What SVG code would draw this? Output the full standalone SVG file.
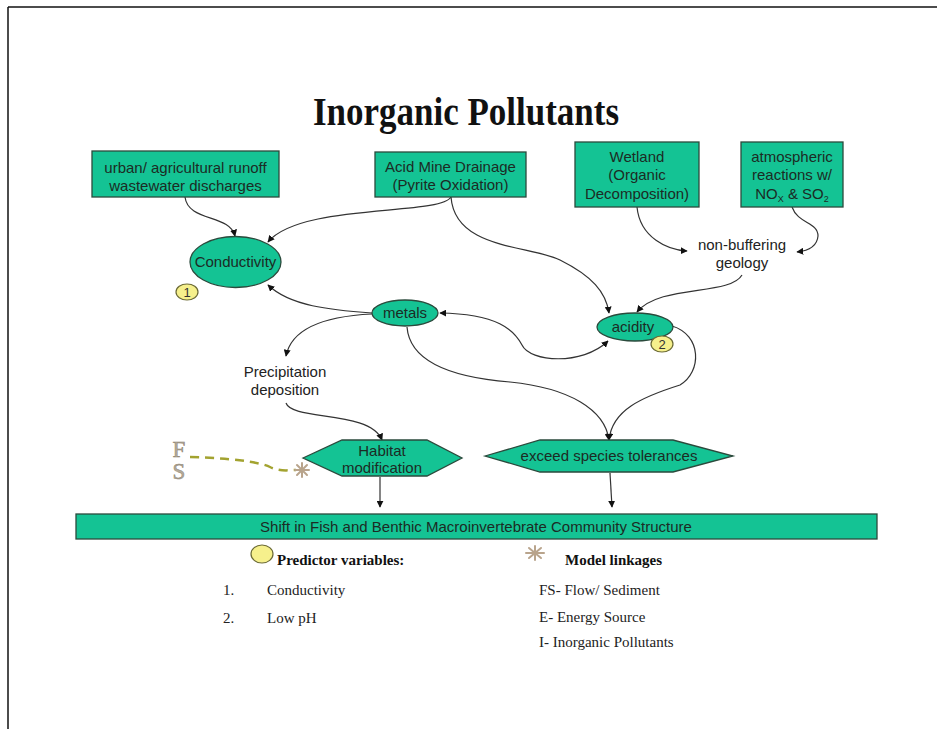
<svg xmlns="http://www.w3.org/2000/svg" width="937" height="729" viewBox="0 0 937 729">
<style>
.box{fill:#14c394;stroke:#2b4a3c;stroke-width:1.3}
.nt{font-family:"Liberation Sans",Arial,sans-serif;font-size:15px;fill:#1c2b24;text-anchor:middle}
.pt{font-family:"Liberation Sans",Arial,sans-serif;font-size:15px;fill:#222;text-anchor:middle}
.badge{fill:#f6f08c;stroke:#6b6a34;stroke-width:1.2}
.bt{font-family:"Liberation Sans",Arial,sans-serif;font-size:13px;fill:#333;text-anchor:middle}
.conn path{fill:none;stroke:#333;stroke-width:1.2}
.conn path.dash{stroke:#a3a330;stroke-width:2.5;stroke-dasharray:9,6}
.leg{font-family:"Liberation Serif","Times New Roman",serif;font-size:15px;fill:#222}
.legb{font-family:"Liberation Serif","Times New Roman",serif;font-size:15px;font-weight:bold;fill:#111}
.ast{stroke:#b9a48c;stroke-width:2;stroke-linecap:round}
</style>
<defs>
<marker id="ah" viewBox="0 0 10 10" refX="9" refY="5" markerWidth="7" markerHeight="7" orient="auto-start-reverse" markerUnits="userSpaceOnUse">
<path d="M0,0 L10,5 L0,10 z" fill="#111"/>
</marker>
</defs>
<rect x="0" y="0" width="937" height="729" fill="#fff"/>
<g id="frame" stroke="#111" stroke-width="1.5">
<line x1="8" y1="7" x2="937" y2="7"/>
<line x1="8" y1="7" x2="8" y2="729"/>
</g>
<text id="title" x="466" y="125" text-anchor="middle" font-family="'Liberation Serif','Times New Roman',serif" font-weight="bold" font-size="40" textLength="306" lengthAdjust="spacingAndGlyphs" fill="#111">Inorganic Pollutants</text>

<g class="conn">
<path d="M185,197 C188,222 230,214 235,236" marker-end="url(#ah)"/>
<path d="M451,197 C440,216 300,203 268,242" marker-end="url(#ah)"/>
<path d="M451,197 C455,250 530,245 560,260 C592,276 606,292 609,313" marker-end="url(#ah)"/>
<path d="M637,207 C640,238 668,250 687,251" marker-end="url(#ah)"/>
<path d="M792,207 C798,224 818,222 818,236 C817,248 806,251 797,252" marker-end="url(#ah)"/>
<path d="M742,275 C730,296 660,284 637,312" marker-end="url(#ah)"/>
<path d="M372,313 C330,310 290,306 268,285" marker-end="url(#ah)"/>
<path d="M372,314 C330,316 292,326 286,356" marker-end="url(#ah)"/>
<path d="M286,403 C292,421 370,410 382,440" marker-end="url(#ah)"/>
<path d="M440,313 C498,314 514,330 522,345 C530,362 582,366 608,341" marker-start="url(#ah)" marker-end="url(#ah)"/>
<path d="M407,327 C410,365 460,378 510,382 C570,388 605,410 609,440" marker-end="url(#ah)"/>
<path d="M672,326 C702,335 702,372 680,385 C642,397 612,410 609,440" marker-end="url(#ah)"/>
<path d="M380,477 L380,507" marker-end="url(#ah)"/>
<path d="M610,473 L612,507" marker-end="url(#ah)"/>
<path class="dash" d="M190,457 C230,458 260,462 270,467 C280,472 290,470 296,470"/>
</g>

<g id="n-urban">
<rect class="box" x="92" y="151" width="187" height="46"/>
<text class="nt" x="185.5" y="173">urban/ agricultural runoff</text>
<text class="nt" x="185.5" y="191">wastewater discharges</text>
</g>
<g id="n-amd">
<rect class="box" x="375" y="152" width="151" height="45"/>
<text class="nt" x="450.5" y="172">Acid Mine Drainage</text>
<text class="nt" x="450.5" y="190">(Pyrite Oxidation)</text>
</g>
<g id="n-wetland">
<rect class="box" x="575" y="142" width="124" height="65"/>
<text class="nt" x="637" y="162">Wetland</text>
<text class="nt" x="637" y="180">(Organic</text>
<text class="nt" x="637" y="199">Decomposition)</text>
</g>
<g id="n-atmo">
<rect class="box" x="741" y="142" width="102" height="65"/>
<text class="nt" x="792" y="162">atmospheric</text>
<text class="nt" x="792" y="180">reactions w/</text>
<text class="nt" x="792" y="199">NO<tspan font-size="9" dy="3">X</tspan><tspan dy="-3"> &amp; SO</tspan><tspan font-size="9" dy="3">2</tspan></text>
</g>
<g id="n-geology">
<text class="pt" x="742" y="250">non-buffering</text>
<text class="pt" x="742" y="268">geology</text>
</g>
<g id="n-conductivity">
<ellipse class="box" cx="235.5" cy="262" rx="45.5" ry="25.5"/>
<text class="nt" x="235.5" y="267">Conductivity</text>
<ellipse class="badge" cx="187" cy="292" rx="11" ry="8"/>
<text class="bt" x="187" y="297">1</text>
</g>
<g id="n-metals">
<ellipse class="box" cx="405" cy="313" rx="33" ry="13"/>
<text class="nt" x="405" y="318">metals</text>
</g>
<g id="n-acidity">
<ellipse class="box" cx="635" cy="327" rx="38" ry="14"/>
<text class="nt" x="633" y="332">acidity</text>
<ellipse class="badge" cx="662" cy="344" rx="11" ry="8"/>
<text class="bt" x="662" y="349">2</text>
</g>
<g id="n-precip">
<text class="pt" x="285" y="377">Precipitation</text>
<text class="pt" x="285" y="395">deposition</text>
</g>
<g id="n-habitat">
<polygon class="box" points="303,458 342,440 427,440 462,458 427,476 342,476"/>
<text class="nt" x="382" y="456">Habitat</text>
<text class="nt" x="382" y="473">modification</text>
</g>
<g id="n-exceed">
<polygon class="box" points="485,456 540,440 673,440 733,456 673,472 540,472"/>
<text class="nt" x="609" y="461">exceed species tolerances</text>
</g>
<g id="n-shift">
<rect class="box" x="76" y="514" width="801" height="25"/>
<text class="nt" x="476" y="532">Shift in Fish and Benthic Macroinvertebrate Community Structure</text>
</g>
<g id="n-fs">
<text x="179" y="437" style="writing-mode:vertical-rl;text-orientation:upright" font-family="'Liberation Serif',serif" font-size="23" fill="#b4aa9a" stroke="#8c8270" stroke-width="0.5" letter-spacing="-3">FS</text>
<g class="ast" transform="translate(302,470)">
<line x1="-7" y1="0" x2="7" y2="0"/><line x1="0" y1="-7" x2="0" y2="7"/>
<line x1="-5" y1="-5" x2="5" y2="5"/><line x1="-5" y1="5" x2="5" y2="-5"/>
</g>
</g>
<g id="legend-predictor">
<ellipse class="badge" cx="262" cy="554" rx="11" ry="9"/>
<text class="legb" x="277" y="565">Predictor variables:</text>
<text class="leg" x="223" y="595">1.</text>
<text class="leg" x="267" y="595">Conductivity</text>
<text class="leg" x="223" y="623">2.</text>
<text class="leg" x="267" y="623">Low pH</text>
</g>
<g id="legend-model">
<g class="ast" transform="translate(535,553)">
<line x1="-9" y1="0" x2="9" y2="0"/><line x1="0" y1="-7" x2="0" y2="7"/>
<line x1="-6" y1="-5" x2="6" y2="5"/><line x1="-6" y1="5" x2="6" y2="-5"/>
</g>
<text class="legb" x="565" y="565">Model linkages</text>
<text class="leg" x="539" y="595">FS- Flow/ Sediment</text>
<text class="leg" x="539" y="622">E- Energy Source</text>
<text class="leg" x="539" y="647">I- Inorganic Pollutants</text>
</g>
</svg>
